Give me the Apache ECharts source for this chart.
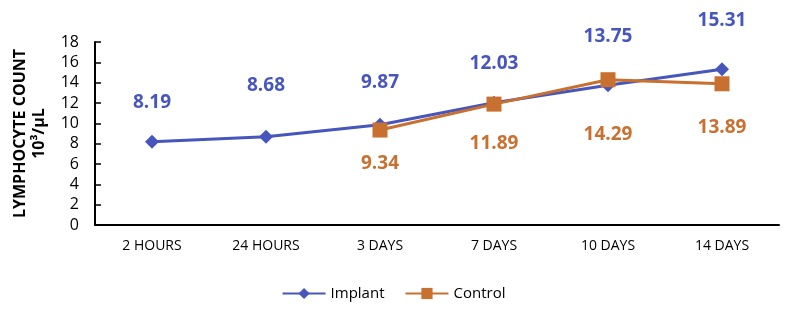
<!DOCTYPE html>
<html>
<head>
<meta charset="utf-8">
<script src="https://cdn.jsdelivr.net/npm/echarts@6/dist/echarts.min.js"></script>
<style>
    html, body { margin: 0; padding: 0; background: #fff; }
    #chart { width: 787px; height: 317px; }
</style>
</head>
<body>
<div id="chart"></div>
<script>
const categories = ['2 HOURS', '24 HOURS', '3 DAYS', '7 DAYS', '10 DAYS', '14 DAYS'];
const implantValues = [8.19, 8.68, 9.87, 12.03, 13.75, 15.31];
const controlValues = [null, null, 9.34, 11.89, 14.29, 13.89];
const yTicks = { min: 0, max: 18, interval: 2 };

// label centre distance from its point in px (Excel placed them by hand)
const implantLabelGap = [39, 51, 42, 39, 49, 49];
const controlLabelGap = [0, 0, 34, 39, 55, 44];

const blue = '#4656BC';
const orange = '#C8702F';
const font = '"Open Sans", "Noto Sans", sans-serif';

const chart = echarts.init(document.getElementById('chart'));

function buildData(values, gaps, below) {
    return values.map((v, i) => {
        if (v === null) return null;
        return {
            value: v,
            label: { offset: [0, below ? gaps[i] : -gaps[i]] }
        };
    });
}

const option = {
    animation: false,
    grid: { left: 95, right: 8, top: 42, bottom: 92 },
    legend: {
        bottom: 11,
        left: 'center',
        itemWidth: 43,
        itemHeight: 14,
        itemGap: 20,
        textStyle: { fontFamily: font, fontSize: 15, color: '#000' },
        data: ['Implant', 'Control']
    },
    xAxis: {
        type: 'category',
        data: categories,
        boundaryGap: true,
        axisLine: { lineStyle: { color: '#000', width: 2 } },
        axisTick: { inside: true, length: 6, lineStyle: { color: '#000', width: 1.5 } },
        axisLabel: { margin: 14, fontFamily: font, fontSize: 14, color: '#000' }
    },
    yAxis: {
        type: 'value',
        min: yTicks.min,
        max: yTicks.max,
        interval: yTicks.interval,
        name: '{a|LYMPHOCYTE COUNT}\n{a|10³/µL}',
        nameLocation: 'middle',
        nameGap: 46,
        nameRotate: 90,
        nameTextStyle: {
            rich: {
                a: { fontFamily: font, fontSize: 16, fontWeight: 'bold', color: '#000', lineHeight: 19 }
            }
        },
        splitLine: { show: false },
        axisLine: { show: true, lineStyle: { color: '#000', width: 2 } },
        axisTick: { show: true, inside: true, length: 6, lineStyle: { color: '#000', width: 1.5 } },
        axisLabel: { margin: 16, fontFamily: font, fontSize: 16, color: '#000' }
    },
    series: [
        {
            name: 'Implant',
            type: 'line',
            data: buildData(implantValues, implantLabelGap, false),
            symbol: 'diamond',
            symbolSize: 14,
            color: blue,
            lineStyle: { width: 3, color: blue },
            itemStyle: { color: blue },
            label: {
                show: true,
                position: 'inside',
                fontFamily: font,
                fontWeight: 'bold',
                fontSize: 19,
                color: blue
            }
        },
        {
            name: 'Control',
            type: 'line',
            data: buildData(controlValues, controlLabelGap, true),
            symbol: 'rect',
            symbolSize: 15,
            color: orange,
            lineStyle: { width: 3, color: orange },
            itemStyle: { color: orange },
            label: {
                show: true,
                position: 'inside',
                fontFamily: font,
                fontWeight: 'bold',
                fontSize: 19,
                color: orange
            }
        }
    ]
};

chart.setOption(option);
</script>
</body>
</html>
